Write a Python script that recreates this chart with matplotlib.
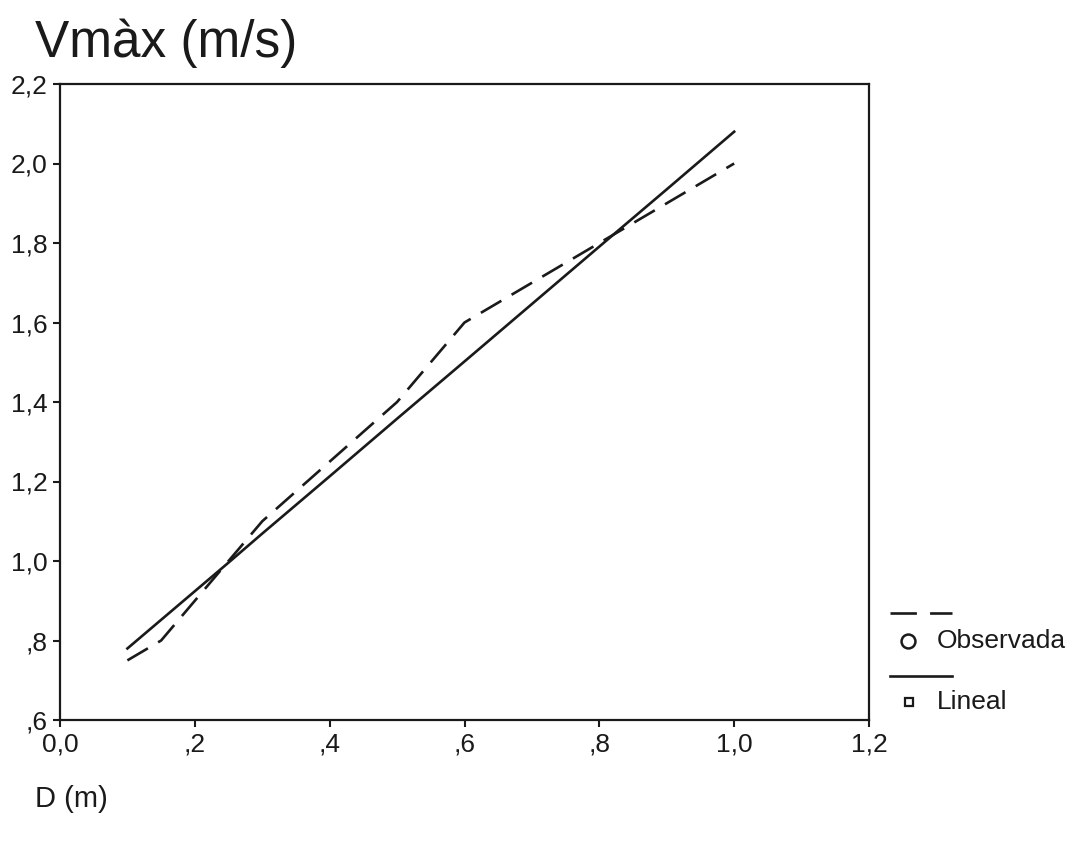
"""Curve fit chart: Vmàx (m/s) against D (m), observed values vs linear fit."""

import matplotlib

matplotlib.use("Agg")
import matplotlib.pyplot as plt  # noqa: E402
from matplotlib.lines import Line2D  # noqa: E402

plt.rcParams["font.family"] = ["Liberation Sans", "DejaVu Sans"]

# --- data -------------------------------------------------------------------
d_m = [0.10, 0.15, 0.20, 0.25, 0.30, 0.40, 0.50, 0.60, 0.80, 0.90, 1.00]
v_observada = [0.75, 0.80, 0.90, 1.00, 1.10, 1.25, 1.40, 1.60, 1.80, 1.90, 2.00]
v_lineal = [0.78, 0.852, 0.924, 0.996, 1.069, 1.213, 1.358, 1.502, 1.791, 1.935, 2.08]

x_ticks = [0.0, 0.2, 0.4, 0.6, 0.8, 1.0, 1.2]
x_ticklabels = ["0,0", ",2", ",4", ",6", ",8", "1,0", "1,2"]
y_ticks = [0.6, 0.8, 1.0, 1.2, 1.4, 1.6, 1.8, 2.0, 2.2]
y_ticklabels = [",6", ",8", "1,0", "1,2", "1,4", "1,6", "1,8", "2,0", "2,2"]

W, H = 1069, 843
fig = plt.figure(figsize=(W / 100, H / 100), dpi=100)
ax = fig.add_axes([60 / W, 1 - 720 / H, (869 - 60) / W, (720 - 84) / H])

lw = 1.9
dash = (9, 4.5)
ax.plot(d_m, v_observada, color="#1a1a1a", lw=lw, dashes=dash)
ax.plot(d_m, v_lineal, color="#1a1a1a", lw=lw)

ax.set_xlim(0, 1.2)
ax.set_ylim(0.6, 2.2)
ax.set_xticks(x_ticks)
ax.set_xticklabels(x_ticklabels)
ax.set_yticks(y_ticks)
ax.set_yticklabels(y_ticklabels)
ax.tick_params(direction="out", length=5, width=1.5, labelsize=19, pad=4, colors="#1a1a1a")
for s in ax.spines.values():
    s.set_linewidth(1.6)
    s.set_color("#1a1a1a")

# titles: vertical title above the axis, horizontal title bottom-left
fig.text(35 / W, 1 - 57 / H, "Vmàx (m/s)", fontsize=37, color="#1a1a1a", va="baseline")
fig.text(35 / W, 1 - 807 / H, "D (m)", fontsize=21, color="#1a1a1a", va="baseline")

# legend outside the plot: line sample above marker + label
tr = fig.transFigure
fig.add_artist(Line2D([890 / W, 952 / W], [1 - 613 / H] * 2, transform=tr,
                      color="#1a1a1a", lw=lw, dashes=(10, 5)))
fig.add_artist(Line2D([908 / W], [1 - 641 / H], transform=tr, marker="o", ms=10,
                      mfc="white", mec="#1a1a1a", mew=1.8, ls="none"))
fig.text(937 / W, 1 - 641 / H, "Observada", fontsize=19, color="#1a1a1a", va="center")
fig.add_artist(Line2D([890 / W, 952 / W], [1 - 676 / H] * 2, transform=tr,
                      color="#1a1a1a", lw=lw))
fig.add_artist(Line2D([909 / W], [1 - 702 / H], transform=tr, marker="s", ms=6,
                      mfc="white", mec="#1a1a1a", mew=1.6, ls="none"))
fig.text(937 / W, 1 - 702 / H, "Lineal", fontsize=19, color="#1a1a1a", va="center")

fig.savefig("out.png", dpi=100)
